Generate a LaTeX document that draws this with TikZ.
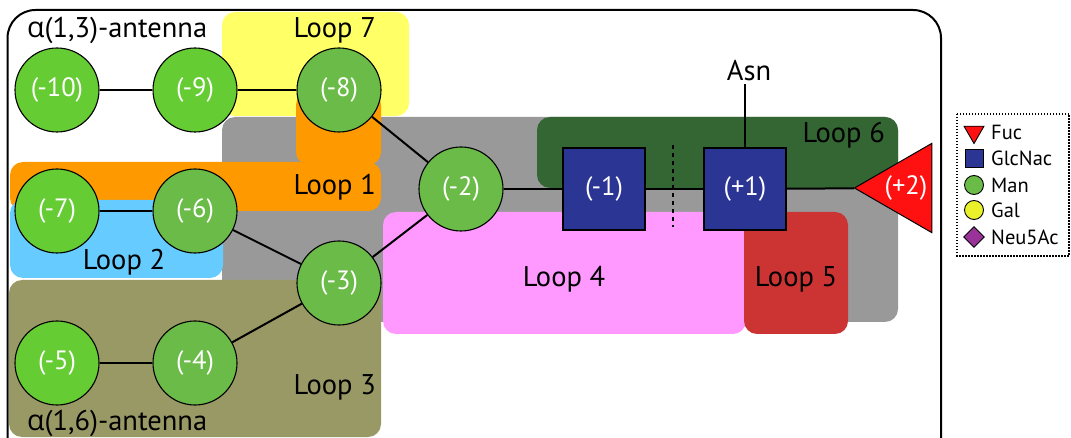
\documentclass[tikz,border=0pt]{standalone}
\usepackage{fontspec}
\setmainfont{PT Sans}
\newfontfamily\grk{Open Sans}
\usetikzlibrary{shapes.geometric}
\definecolor{manA}{HTML}{66CC33}
\definecolor{manB}{HTML}{6ABB47}
\definecolor{glc}{HTML}{2B3594}
\definecolor{fuc}{HTML}{FF1111}
\definecolor{galc}{HTML}{EAF02A}
\definecolor{neu}{HTML}{993399}
\definecolor{greyreg}{HTML}{999999}
\definecolor{yelreg}{HTML}{FFFF66}
\definecolor{orareg}{HTML}{FF9900}
\definecolor{blureg}{HTML}{66CCFF}
\definecolor{olireg}{HTML}{999966}
\definecolor{pinkreg}{HTML}{FF99FF}
\definecolor{redreg}{HTML}{CC3333}
\definecolor{grnreg}{HTML}{336633}
\begin{document}
\begin{tikzpicture}[x=1pt,y=-1pt,
  region/.style={rounded corners=13pt},
  looplbl/.style={font=\fontsize{28.5}{32}\selectfont, inner sep=0pt},
  man/.style={circle, draw=black, line width=1.1pt, minimum size=84pt, inner sep=0pt, fill=manB, text=white, font=\fontsize{26.5}{30}\selectfont},
  manbright/.style={man, fill=manA},
  glcbox/.style={rectangle, draw=black, line width=1.1pt, minimum size=82pt, inner sep=0pt, fill=glc, text=white, font=\fontsize{26.5}{30}\selectfont},
  fucnode/.style={regular polygon, regular polygon sides=3, shape border rotate=90, draw=black, line width=1pt, fill=fuc, minimum size=103pt, inner sep=0pt},
  link/.style={line width=2pt},
  legtxt/.style={font=\fontsize{20.5}{24}\selectfont, anchor=west, inner sep=0pt},
  legsym/.style={draw=black, line width=0.9pt, inner sep=0pt}
]
\useasboundingbox (0,0) rectangle (1071,438);
% regions
\fill[greyreg, region] (222,117) rectangle (898,322);
\fill[yelreg, region] (222,12) rectangle (409,116);
\fill[orareg, region] (296,92) rectangle (381,165);
\fill[orareg, region] (10,162) rectangle (381,211);
\fill[blureg, region] (10,200) rectangle (223,278);
\fill[olireg, region] (9,280) rectangle (381,437);
\fill[pinkreg, region] (383,212) rectangle (746,334);
\fill[redreg, region] (744,212) rectangle (848,334);
\fill[grnreg, region] (537,117) rectangle (898,188);
% outer frame
\draw[line width=2pt, rounded corners=28pt] (7.5,445) -- (7.5,10) -- (941,10) -- (941,445);
% labels
\node[looplbl, anchor=east] at (376,30) {Loop 7};
\node[looplbl, anchor=east] at (376,187) {Loop 1};
\node[looplbl] at (124,262) {Loop 2};
\node[looplbl, anchor=east] at (376,387) {Loop 3};
\node[looplbl] at (564,279) {Loop 4};
\node[looplbl] at (796,279) {Loop 5};
\node[looplbl, anchor=east] at (885,135) {Loop 6};
\node[looplbl, anchor=west] at (27,30) {{\grk α}(1,3)-antenna};
\node[looplbl, anchor=west] at (27,423) {{\grk α}(1,6)-antenna};
% residues
\node[manbright] (m10) at (57,90) {(-10)};
\node[manbright] (m9) at (195,90) {(-9)};
\node[man] (m8) at (339,90) {(-8)};
\node[manbright] (m7) at (57,211) {(-7)};
\node[man] (m6) at (195,211) {(-6)};
\node[man] (m3) at (339,283) {(-3)};
\node[manbright] (m5) at (57,363) {(-5)};
\node[man] (m4) at (195,363) {(-4)};
\node[man] (m2) at (461,189) {(-2)};
\node[glcbox] (n1) at (604,189) {(-1)};
\node[glcbox] (p1) at (745,189) {(+1)};
\node[fucnode, label={[text=white, font=\fontsize{26.5}{30}\selectfont]center:(+2)}] (p2) at (906,188) {};
\node[looplbl, inner sep=3pt] (asn) at (749,71) {Asn};
% links
\draw[link] (m10) -- (m9);
\draw[link] (m9) -- (m8);
\draw[link] (m8) -- (m2);
\draw[link] (m7) -- (m6);
\draw[link] (m6) -- (m3);
\draw[link] (m5) -- (m4);
\draw[link] (m4) -- (m3);
\draw[link] (m3) -- (m2);
\draw[link] (m2) -- (n1);
\draw[link] (n1) -- (p1);
\draw[link] (p1) -- (p2);
\draw[link] (p1.north) -- (p1.north |- asn.south);
\draw[line width=2pt, dash pattern=on 4pt off 4pt] (673,145) -- (673,227);
% legend
\draw[line width=1.3pt, dash pattern=on 1.5pt off 1.5pt] (957,114) rectangle (1069,256);
\node[legsym, regular polygon, regular polygon sides=3, shape border rotate=180, fill=fuc, minimum size=23pt] (lf) at (974,132) {};
\node[legsym, rectangle, fill=glc, minimum size=18pt] (lg) at (974,158) {};
\node[legsym, circle, fill=manB, minimum size=19pt] (lm) at (974,185) {};
\node[legsym, circle, fill=galc, minimum size=19pt] (lgal) at (974,210) {};
\node[legsym, diamond, fill=neu, minimum width=21pt, minimum height=21pt] (ln) at (974,237) {};
\node[legtxt] (tf) at (991,132) {Fuc};
\node[legtxt] (tg) at (991,158) {GlcNac};
\node[legtxt] (tm) at (991,185) {Man};
\node[legtxt] (tgal) at (991,210) {Gal};
\node[legtxt] (tn) at (991,237) {Neu5Ac};
\end{tikzpicture}
\end{document}
